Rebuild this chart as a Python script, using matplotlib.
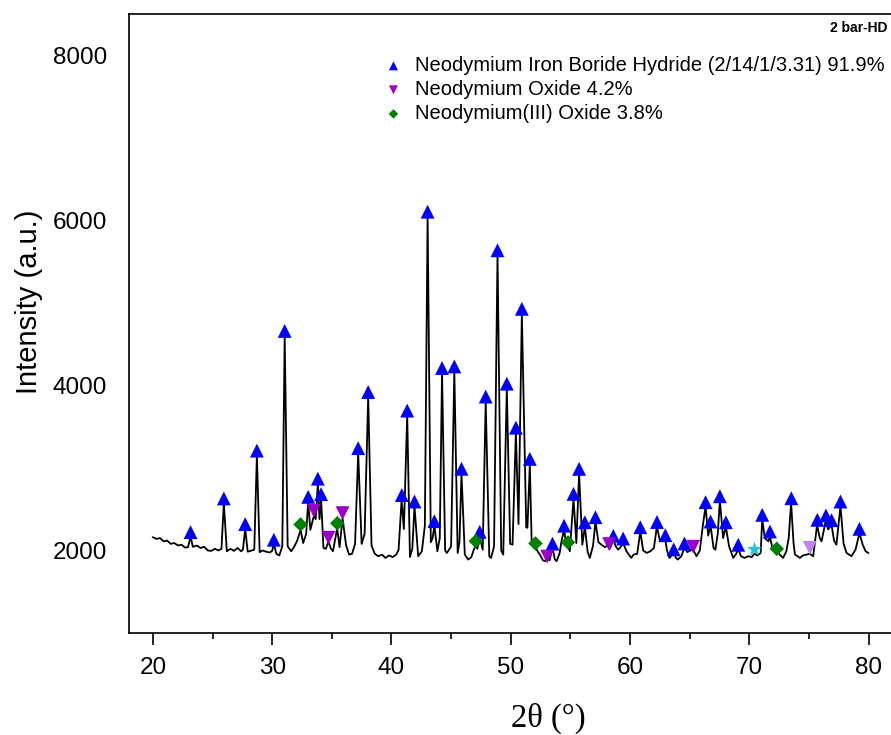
import numpy as np
import matplotlib
matplotlib.use("Agg")
import matplotlib.pyplot as plt
from matplotlib.ticker import MultipleLocator

trace = [
    (20.0, 2160), (20.3, 2140), (20.6, 2150), (20.9, 2110), (21.2, 2120), (21.5, 2080),
    (21.8, 2090), (22.1, 2060), (22.4, 2070), (22.7, 2035), (22.95, 2040), (23.16, 2170),
    (23.35, 2045), (23.7, 2060), (24.0, 2030), (24.3, 2045), (24.6, 2000), (24.9, 1995),
    (25.2, 2020), (25.5, 2000), (25.75, 2020), (25.95, 2575), (26.2, 1990), (26.5, 2020),
    (26.8, 1995), (27.1, 2030), (27.4, 1990), (27.55, 2010), (27.74, 2265), (27.95, 1985),
    (28.3, 2000), (28.5, 2010), (28.72, 3155), (28.95, 1980), (29.2, 2000), (29.5, 1985),
    (29.8, 1975), (30.0, 1995), (30.14, 2080), (30.35, 1960), (30.6, 1940), (30.85, 2050),
    (31.05, 4600), (31.3, 2050), (31.6, 1990), (31.9, 2060), (32.1, 2120), (32.38, 2250),
    (32.6, 2090), (32.85, 2200), (33.02, 2595), (33.2, 2250), (33.5, 2420), (33.65, 2380),
    (33.83, 2815), (33.97, 2380), (34.1, 2630), (34.3, 2030), (34.5, 2020), (34.72, 2110),
    (34.9, 2030), (35.1, 1990), (35.45, 2270), (35.65, 2040), (35.9, 2390), (36.2, 2060),
    (36.45, 1950), (36.7, 1960), (36.95, 2080), (37.21, 3185), (37.5, 2080), (37.75, 2200),
    (38.05, 3865), (38.33, 2060), (38.6, 1960), (38.9, 1930), (39.2, 1950), (39.5, 1910),
    (39.8, 1940), (40.1, 1920), (40.4, 1950), (40.6, 2010), (40.85, 2615), (41.04, 2260),
    (41.32, 3640), (41.55, 1920), (41.75, 2020), (41.93, 2540), (42.24, 1930), (42.55, 1990),
    (42.8, 2300), (43.03, 6050), (43.3, 2100), (43.45, 2150), (43.6, 2300), (43.85, 1990),
    (44.05, 2150), (44.24, 4155), (44.5, 2000), (44.65, 1970), (45.0, 2050), (45.27, 4175),
    (45.55, 1970), (45.7, 2100), (45.87, 2935), (46.15, 1950), (46.43, 1890), (46.7, 1920),
    (46.9, 2010), (47.07, 2060), (47.2, 2020), (47.4, 2170), (47.65, 2010), (47.9, 3810),
    (48.2, 1930), (48.35, 1910), (48.6, 2050), (48.89, 5580), (49.2, 2000), (49.37, 1950),
    (49.67, 3965), (49.95, 2080), (50.15, 2070), (50.43, 3430), (50.65, 2320), (50.93, 4870),
    (51.3, 2280), (51.4, 2275), (51.6, 3050), (51.75, 2110), (52.07, 2040), (52.25, 1990),
    (52.44, 1950), (52.7, 1880), (52.86, 1870), (53.05, 1910), (53.25, 1880), (53.5, 2030),
    (53.7, 1890), (53.85, 1870), (54.1, 1970), (54.25, 2110), (54.47, 2250), (54.65, 2080),
    (54.8, 2060), (54.95, 1990), (55.26, 2630), (55.5, 2090), (55.73, 2935), (56.0, 2070),
    (56.21, 2290), (56.45, 1980), (56.63, 1910), (56.9, 2060), (57.1, 2350), (57.35, 2100),
    (57.6, 2070), (57.9, 2040), (58.1, 2060), (58.3, 2020), (58.6, 2130), (58.8, 2050),
    (59.0, 2010), (59.2, 2040), (59.42, 2090), (59.7, 1990), (60.1, 1910), (60.3, 1950),
    (60.6, 1960), (60.86, 2230), (61.1, 2000), (61.4, 1970), (61.7, 1990), (62.0, 2030),
    (62.25, 2290), (62.5, 2120), (62.7, 2110), (62.95, 2130), (63.1, 2000), (63.3, 1910),
    (63.5, 1940), (63.66, 1975), (63.85, 1910), (64.0, 1890), (64.3, 1930), (64.56, 2035),
    (64.8, 1980), (65.05, 2000), (65.29, 2010), (65.57, 1930), (65.85, 2000), (66.1, 2300),
    (66.33, 2535), (66.55, 2180), (66.75, 2300), (67.0, 2030), (67.15, 2010), (67.35, 2200),
    (67.53, 2605), (67.8, 2150), (68.03, 2290), (68.3, 2050), (68.65, 1910), (68.9, 1960),
    (69.07, 2020), (69.3, 1930), (69.6, 1910), (69.9, 1930), (70.2, 1920), (70.43, 1960),
    (70.7, 1940), (70.95, 1970), (71.08, 2380), (71.3, 2150), (71.6, 2110), (71.72, 2170),
    (71.95, 2020), (72.14, 1990), (72.3, 1990), (72.55, 1950), (72.83, 1910), (73.1, 1990),
    (73.3, 2150), (73.5, 2580), (73.7, 2100), (73.82, 1950), (74.05, 1930), (74.23, 1910),
    (74.5, 1940), (74.8, 1950), (75.07, 1960), (75.35, 1930), (75.5, 2100), (75.68, 2310),
    (75.9, 2150), (76.05, 2110), (76.25, 2250), (76.41, 2370), (76.6, 2255), (76.89, 2310),
    (77.1, 2120), (77.3, 2070), (77.64, 2540), (77.9, 2080), (78.15, 1970), (78.35, 1950),
    (78.56, 1930), (78.9, 2010), (79.23, 2210), (79.5, 2070), (79.75, 1990), (79.97, 1970),
]

# phase markers (2theta, intensity)
nd2fe14bh = [
    (23.16, 2222), (25.95, 2630), (27.74, 2320), (28.72, 3210), (30.14, 2130), (31.05, 4660),
    (33.02, 2650), (33.83, 2870), (34.1, 2683), (37.21, 3240), (38.05, 3920), (40.87, 2672),
    (41.32, 3695), (41.93, 2593), (43.03, 6105), (43.6, 2355), (44.24, 4211), (45.27, 4230),
    (45.87, 2990), (47.4, 2226), (47.9, 3865), (48.89, 5637), (49.67, 4021), (50.43, 3488),
    (50.93, 4928), (51.6, 3110), (53.5, 2083), (54.47, 2300), (55.26, 2686), (55.73, 2989),
    (56.21, 2342), (57.1, 2403), (58.6, 2177), (59.42, 2145), (60.86, 2282), (62.26, 2345),
    (62.96, 2185), (63.66, 2014), (64.56, 2085), (66.33, 2585), (66.75, 2351), (67.53, 2657),
    (68.03, 2342), (69.07, 2069), (71.08, 2432), (71.73, 2230), (73.52, 2633), (75.7, 2371),
    (76.42, 2424), (76.89, 2367), (77.64, 2593), (79.23, 2262),
]
nd_oxide = [(33.5, 2480), (34.73, 2154), (35.9, 2452), (53.05, 1925), (58.25, 2077), (65.29, 2045)]
nd2o3 = [(32.38, 2315), (35.46, 2330), (47.07, 2113), (52.07, 2085), (54.8, 2097), (72.3, 2020)]
other_star = [(70.43, 2012)]
other_lilac = [(75.07, 2030)]

labels = [
    "Neodymium Iron Boride Hydride (2/14/1/3.31) 91.9%",
    "Neodymium Oxide 4.2%",
    "Neodymium(III) Oxide 3.8%",
]

plt.rcParams["font.family"] = ["Liberation Sans", "DejaVu Sans"]

fig = plt.figure(figsize=(8.91, 7.35), dpi=100)
ax = fig.add_axes([129 / 891, 1 - 633 / 735, 763.5 / 891, 619 / 735])

tx, ty = np.array(trace).T
ax.plot(tx, ty, color="black", lw=1.3, zorder=2)


def scatter(pts, marker, color, size, label=None):
    px, py = np.array(pts).T
    ax.scatter(px, py, marker=marker, s=size, color=color, edgecolors="none",
               zorder=3, label=label)


scatter(nd2fe14bh, "^", "#0000ff", 100, labels[0])
scatter(nd_oxide, "v", "#9c00c8", 100, labels[1])
scatter(nd2o3, "D", "#008000", 55, labels[2])
scatter(other_star, "*", "#20c8d0", 130)
scatter(other_lilac, "v", "#c080f8", 100)

ax.set_xlim(18, 82)
ax.set_ylim(1000, 8500)
ax.xaxis.set_major_locator(MultipleLocator(10))
ax.xaxis.set_minor_locator(MultipleLocator(5))
ax.set_yticks([2000, 4000, 6000, 8000])
ax.tick_params(axis="x", which="major", direction="out", length=8.6, width=1.2, pad=9,
               labelsize=17.5)
ax.tick_params(axis="x", which="minor", direction="out", length=4.3, width=1.2)
ax.tick_params(axis="y", length=0, pad=16, labelsize=17.5)
for sp in ax.spines.values():
    sp.set_linewidth(1.2)

ax.set_xlabel("2θ (°)", family=["Liberation Serif", "DejaVu Serif"], fontsize=23.5)
ax.xaxis.set_label_coords((548 - 129) / 763.5, -0.112)
ax.set_ylabel("Intensity (a.u.)", fontsize=21)
ax.yaxis.set_label_coords(-0.112, 0.535)

ax.text(0.993, 0.988, "2 bar-HD", transform=ax.transAxes, ha="right", va="top",
        fontsize=10, fontweight="bold")

ax.legend(loc="upper left", bbox_to_anchor=(0.32, 0.945), frameon=False,
          fontsize=14.5, markerscale=0.65, handletextpad=0.45, labelspacing=0.25,
          handlelength=1.2, borderaxespad=0)

fig.savefig("out.png", dpi=100)
